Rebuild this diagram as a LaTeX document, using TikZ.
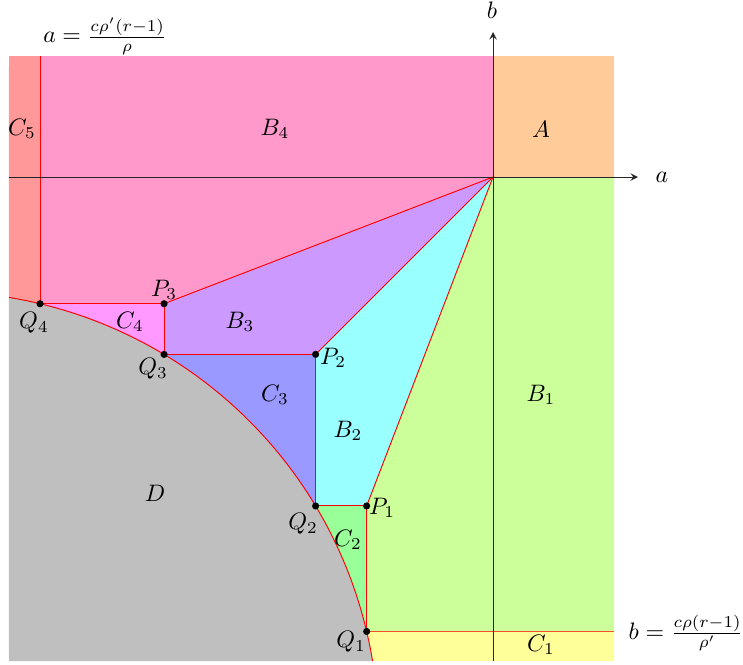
\documentclass[tikz,border=0pt]{standalone}
\usetikzlibrary{calc}
\definecolor{cA}{RGB}{255,204,153}
\definecolor{cBf}{RGB}{255,153,204}
\definecolor{cCf}{RGB}{255,153,153}
\definecolor{cBt}{RGB}{204,153,255}
\definecolor{cCq}{RGB}{255,153,255}
\definecolor{cCt}{RGB}{153,153,255}
\definecolor{cBw}{RGB}{153,255,255}
\definecolor{cCw}{RGB}{153,255,153}
\definecolor{cBo}{RGB}{204,255,153}
\definecolor{cCo}{RGB}{255,255,153}
\definecolor{cD}{RGB}{191,191,191}
\definecolor{cLine}{RGB}{245,80,40}
\begin{document}
\begin{tikzpicture}[x=0.42pt,y=-0.42pt,
  bd/.style={red, line width=0.4pt},
  dotnode/.style={circle, fill=black, inner sep=0pt, minimum size=3pt},
  lbl/.style={inner sep=1pt},
  axis/.style={black!85, line width=0.4pt, -stealth}]
\useasboundingbox (0,0) rectangle (743,664);
\def\cx{-63}\def\cy{733}\def\R{441.5}
\coordinate (O) at (493,177);
\coordinate (Tp) at (0,56);
\coordinate (Rt) at (614,0);
\coordinate (Q4) at ({\cx+\R*cos(76.5)},{\cy-\R*sin(76.5)});
\coordinate (Q3) at ({\cx+\R*cos(59.05)},{\cy-\R*sin(59.05)});
\coordinate (Q2) at ({\cx+\R*cos(30.95)},{\cy-\R*sin(30.95)});
\coordinate (Q1) at ({\cx+\R*cos(13.3)},{\cy-\R*sin(13.3)});
\coordinate (P3) at (Q3 |- Q4);
\coordinate (P2) at (Q2 |- Q3);
\coordinate (P1) at (Q1 |- Q2);
\coordinate (S) at ({\cx+\R*cos(80.614)},{\cy-\R*sin(80.614)});
\coordinate (E) at ({\cx+\R*cos(9.386)},{\cy-\R*sin(9.386)});
% fills
\fill[cA] (493,56) rectangle (614,177);
\fill[cBo] (O) -- (614,177) -- (Q1 -| Rt) -- (Q1) -- (P1) -- cycle;
\fill[cCo] (Q1) -- (Q1 -| Rt) -- (614,661) -- (E) -- plot[domain=9.386:13.3,samples=10] ({\cx+\R*cos(\x)},{\cy-\R*sin(\x)}) -- cycle;
\fill[cD] (9,661) -- (S) -- plot[domain=80.614:9.386,samples=80] ({\cx+\R*cos(\x)},{\cy-\R*sin(\x)}) -- cycle;
\fill[cCf] (9,56) -- (Q4 |- Tp) -- (Q4) -- plot[domain=76.5:80.614,samples=10] ({\cx+\R*cos(\x)},{\cy-\R*sin(\x)}) -- cycle;
\fill[cBf] (Q4 |- Tp) -- (493,56) -- (O) -- (P3) -- (Q4) -- cycle;
\fill[cBt] (P3) -- (O) -- (P2) -- (Q3) -- cycle;
\fill[cCq] (Q4) -- (P3) -- (Q3) -- plot[domain=59.05:76.5,samples=20] ({\cx+\R*cos(\x)},{\cy-\R*sin(\x)}) -- cycle;
\fill[cCt] (Q3) -- (P2) -- (Q2) -- plot[domain=30.95:59.05,samples=30] ({\cx+\R*cos(\x)},{\cy-\R*sin(\x)}) -- cycle;
\fill[cBw] (P2) -- (O) -- (P1) -- (Q2) -- cycle;
\fill[cCw] (Q2) -- (P1) -- (Q1) -- plot[domain=13.3:30.95,samples=20] ({\cx+\R*cos(\x)},{\cy-\R*sin(\x)}) -- cycle;
% borders
\draw[bd] (Q4 |- Tp) -- (Q4) -- (P3) -- (Q3) -- (P2) -- (Q2) -- (P1) -- (Q1);
\draw[cLine, line width=0.5pt] (Q1) -- (Q1 -| Rt);
\draw[bd] (P3) -- (O) -- (P2);
\draw[bd] (O) -- (P1);
\draw[bd] plot[domain=80.614:9.386,samples=80] ({\cx+\R*cos(\x)},{\cy-\R*sin(\x)});
% axes
\coordinate (AxL) at (9,177);
\coordinate (AxR) at (638,177);
\coordinate (AxB) at (493,661);
\coordinate (AxT) at (493,32);
\draw[axis] (AxL) -- (AxR);
\draw[axis] (AxB) -- (AxT);
\node[lbl] (la) at (662,177) {$a$};
\node[lbl] (lb) at (492,10) {$b$};
% dots
\foreach \p in {P1,P2,P3,Q1,Q2,Q3,Q4} \node[dotnode] (d\p) at (\p) {};
% labels
\node[lbl] (nA) at (541,129) {$A$};
\node[lbl] (nB4) at (275,129) {$B_4$};
\node[lbl] (nC5) at (22,129) {$C_5$};
\node[lbl] (nB3) at (240,322) {$B_3$};
\node[lbl] (nC4) at (130,322) {$C_4$};
\node[lbl] (nP3) at (164,290) {$P_3$};
\node[lbl] (nQ4) at (34,323) {$Q_4$};
\node[lbl] (nQ3) at (153,369) {$Q_3$};
\node[lbl] (nP2) at (333,358) {$P_2$};
\node[lbl] (nC3) at (275,395) {$C_3$};
\node[lbl] (nB2) at (348,431) {$B_2$};
\node[lbl] (nB1) at (541,395) {$B_1$};
\node[lbl] (nD) at (155,493) {$D$};
\node[lbl] (nQ2) at (303,524) {$Q_2$};
\node[lbl] (nP1) at (382,508) {$P_1$};
\node[lbl] (nC2) at (348,540) {$C_2$};
\node[lbl] (nQ1) at (351,642) {$Q_1$};
\node[lbl] (nC1) at (541,645) {$C_1$};
\node[lbl] (fa) at (105,36) {$a=\frac{c\rho'(r-1)}{\rho}$};
\node[lbl] (fb) at (686,633) {$b=\frac{c\rho(r-1)}{\rho'}$};
\end{tikzpicture}
\end{document}
